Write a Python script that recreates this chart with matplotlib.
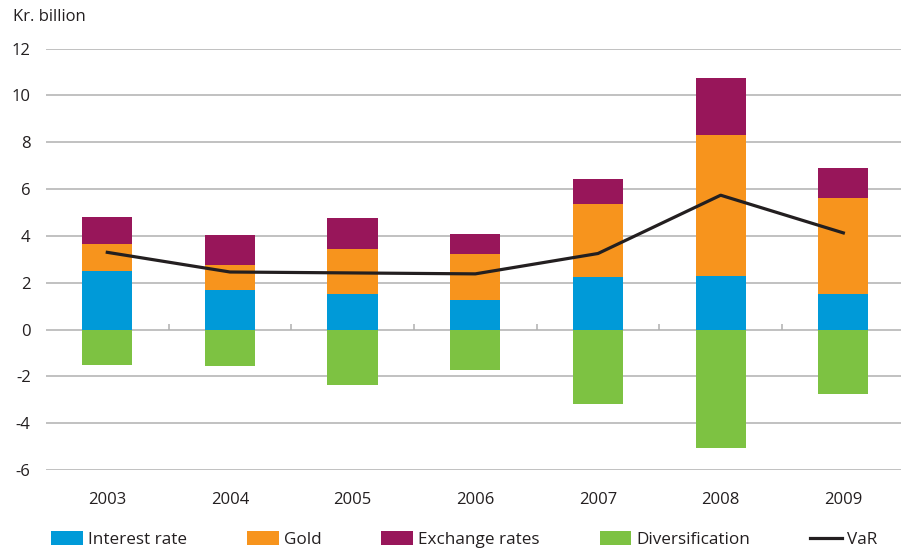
import matplotlib.pyplot as plt
import numpy as np

plt.rcParams['font.family'] = ['Open Sans', 'DejaVu Sans']
plt.rcParams['axes.unicode_minus'] = False

years = ['2003', '2004', '2005', '2006', '2007', '2008', '2009']
interest_rate = [2.49, 1.68, 1.51, 1.27, 2.23, 2.28, 1.51]
gold = [1.15, 1.07, 1.92, 1.95, 3.12, 6.02, 4.10]
exchange_rates = [1.16, 1.28, 1.33, 0.85, 1.07, 2.44, 1.28]
diversification = [-1.52, -1.57, -2.38, -1.74, -3.19, -5.06, -2.76]
var = [3.30, 2.46, 2.42, 2.38, 3.25, 5.74, 4.13]
yticks = [-6, -4, -2, 0, 2, 4, 6, 8, 10, 12]

BLUE = '#009ad8'
ORANGE = '#f7941d'
PURPLE = '#98165a'
GREEN = '#7dc242'
GRID = '#b0b0b0'

fig = plt.figure(figsize=(9.01, 5.53), dpi=100)
ax = fig.add_axes([0.051, 0.150, 0.949, 0.762])

x = np.arange(len(years))
w = 0.41
ir = np.array(interest_rate)
gd = np.array(gold)

b1 = ax.bar(x, ir, w, color=BLUE, label='Interest rate', zorder=2)
b2 = ax.bar(x, gd, w, bottom=ir, color=ORANGE, label='Gold', zorder=2)
b3 = ax.bar(x, exchange_rates, w, bottom=ir + gd, color=PURPLE, label='Exchange rates', zorder=2)
b4 = ax.bar(x, diversification, w, color=GREEN, label='Diversification', zorder=2)
l1, = ax.plot(x, var, color='#231f20', lw=2.3, label='VaR', zorder=3)

#gridlines and little ticks on the zero line between categories
for y in yticks:
    ax.axhline(y, color=GRID, lw=1.1, zorder=1)
ax.vlines(x[:-1] + 0.5, 0, 0.22, color=GRID, lw=1.1, zorder=1)

ax.set_xlim(-0.5, 6.47)
ax.set_ylim(-6, 12)
ax.set_yticks(yticks)
ax.set_yticklabels([str(v) for v in yticks])
ax.set_xticks(x)
ax.set_xticklabels(years)
ax.tick_params(axis='y', length=0, pad=11, labelsize=12, colors='#231f20')
ax.tick_params(axis='x', length=0, pad=16, labelsize=12, colors='#231f20')
for s in ax.spines.values():
    s.set_visible(False)

fig.text(0.014, 0.970, 'Kr. billion', fontsize=12, color='#231f20', va='center')

handles = [b1, b2, b3, b4, l1]
fig.legend(handles, [h.get_label() for h in handles], loc='center left',
           bbox_to_anchor=(0.057, 0.024), ncol=5, frameon=False,
           fontsize=12.3, handlelength=1.86, handleheight=0.84, handletextpad=0.3,
           columnspacing=3.5, borderpad=0, borderaxespad=0, labelcolor='#231f20')

fig.savefig('out.png', dpi=100)
